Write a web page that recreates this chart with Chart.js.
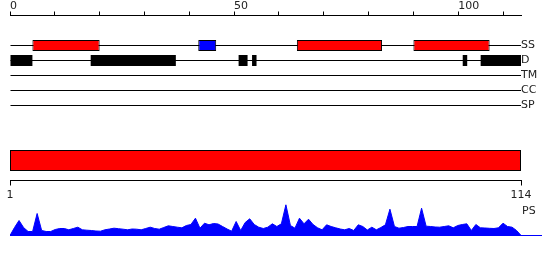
<!DOCTYPE html>
<html>
<head>
<meta charset="utf-8">
<script src="https://cdn.jsdelivr.net/npm/chart.js@4.4.1/dist/chart.umd.min.js"></script>
<style>
  html, body { margin: 0; padding: 0; background: #fff; }
  #wrap { position: relative; width: 550px; height: 260px; overflow: hidden; }
  canvas { position: absolute; left: 0; }
</style>
</head>
<body>
<div id="wrap">
  <canvas id="featureChart" width="550" height="138" style="top:0"></canvas>
  <canvas id="seqChart" width="550" height="80" style="top:140px"></canvas>
  <canvas id="psChart" width="550" height="65" style="top:195px"></canvas>
</div>
<script>
// sequence + feature tracks
const seqLength = 114;
const seqRange = [1, 114];
const seqTicks = [1, 114];
const trackNames = ['SS', 'D', 'TM', 'CC', 'SP'];
const helixSegments = [[5, 20], [64, 83], [90, 107]];
const strandSegments = [[42, 46]];
const disorderSegments = [[0, 5], [18, 37], [51, 53], [54, 55], [101, 102], [105, 114]];

// PS profile, one value per residue
const psValues = [
    0, 8, 15, 8, 4, 4, 22, 5, 4, 4,
    6, 7, 7, 5.7, 7, 8.3, 5.7, 5.3, 5, 4.5,
    4.3, 5.7, 6.5, 7.3, 6.8, 6.3, 5.7, 6.5, 6.3, 5.7,
    7, 8.3, 7, 6.3, 8, 9.7, 9, 8.3, 7.7, 10,
    11, 17.3, 7.3, 12.3, 10.7, 12, 11.5, 9, 6.5, 4.3,
    14, 5, 13, 16.7, 11, 8.3, 7, 8.3, 11.7, 9,
    11.7, 30.7, 10, 7.3, 17.3, 11.7, 16.3, 11, 7.7, 5.7,
    10.7, 9, 7.7, 6.5, 5.7, 7, 5, 10.7, 9, 5.5,
    8.3, 5.7, 8, 10.7, 26.3, 9, 7.3, 8, 9, 9,
    9, 27.3, 9.3, 9, 8.5, 8.3, 9, 9.7, 7.7, 10,
    11, 11.7, 5, 11, 7.7, 7.5, 7.2, 7, 7.7, 12.3,
    9, 8.3, 5, 0
];

Chart.defaults.font.family = '"DejaVu Sans", Verdana, sans-serif';
Chart.defaults.font.size = 11;

const noChrome = { legend: { display: false }, tooltip: { enabled: false } };
const toBars = (segs, row) => segs.map((s) => ({ x: s, y: row }));

new Chart(document.getElementById('featureChart'), {
    type: 'bar',
    data: {
        datasets: [
            { data: toBars(helixSegments, 0), backgroundColor: '#ff0000', borderColor: '#000', borderWidth: 1, borderSkipped: false, barThickness: 11 },
            { data: toBars(strandSegments, 0), backgroundColor: '#0000ff', borderColor: '#000', borderWidth: 1, borderSkipped: false, barThickness: 11 },
            { data: toBars(disorderSegments, 1), backgroundColor: '#000', borderWidth: 0, barThickness: 11 },
            // the track lines
            { data: trackNames.map((n, i) => ({ x: [0, seqLength], y: i })), backgroundColor: '#000', borderWidth: 0, barThickness: 1 }
        ]
    },
    options: {
        indexAxis: 'y',
        responsive: false,
        animation: false,
        layout: { padding: { left: 10, right: 0, top: 0, bottom: 17.5 } },
        datasets: { bar: { grouped: false, inflateAmount: 0 } },
        plugins: noChrome,
        scales: {
            x: {
                type: 'linear',
                position: 'top',
                min: 0,
                max: seqLength,
                afterFit: (s) => { s.height = 15.5; },
                grid: { drawOnChartArea: false, drawTicks: true, tickLength: 4, color: '#000' },
                border: { color: '#000', width: 1 },
                ticks: {
                    stepSize: 10,
                    includeBounds: false,
                    autoSkip: false,
                    maxRotation: 0,
                    align: 'start',
                    padding: 0,
                    color: '#222',
                    font: { size: 11, lineHeight: 1 },
                    callback: (v) => (v % 50 === 0 ? v : '')
                }
            },
            y: {
                type: 'linear',
                position: 'right',
                reverse: true,
                min: -2,
                max: 5,
                offset: false,
                afterFit: (s) => { s.width = 29; },
                grid: { display: false, drawTicks: false },
                border: { display: false },
                ticks: {
                    stepSize: 1,
                    autoSkip: false,
                    padding: 0,
                    color: '#222',
                    callback: (v) => trackNames[v] ?? ''
                }
            }
        }
    }
});

new Chart(document.getElementById('seqChart'), {
    type: 'bar',
    data: {
        datasets: [{
            data: [{ x: seqRange, y: 1 }],
            backgroundColor: '#ff0000',
            borderColor: '#000',
            borderWidth: 1,
            borderSkipped: false,
            barThickness: 21,
            inflateAmount: 0
        }]
    },
    options: {
        indexAxis: 'y',
        responsive: false,
        animation: false,
        layout: { padding: { left: 10, right: 29, top: 0.5, bottom: 0 } },
        plugins: noChrome,
        scales: {
            x: {
                type: 'linear',
                min: seqRange[0],
                max: seqRange[1],
                afterFit: (s) => { s.height = 39.5; },
                afterBuildTicks: (s) => { s.ticks = seqTicks.map((v) => ({ value: v })); },
                grid: { drawOnChartArea: false, tickLength: 5, color: '#000' },
                border: { color: '#000', width: 1 },
                ticks: { autoSkip: false, maxRotation: 0, padding: 3, color: '#222' }
            },
            y: { type: 'linear', min: 0, max: 2, offset: false, display: false }
        }
    }
});

const psLabel = {
    id: 'psLabel',
    afterDraw(chart) {
        const { ctx, scales: { x, y } } = chart;
        ctx.save();
        ctx.font = '11px "DejaVu Sans"';
        ctx.fillStyle = '#222';
        ctx.textAlign = 'left';
        ctx.textBaseline = 'middle';
        ctx.fillText('PS', x.getPixelForValue(seqLength) + 1, y.getPixelForValue(24.5));
        ctx.restore();
    }
};

new Chart(document.getElementById('psChart'), {
    type: 'line',
    data: {
        datasets: [{
            data: psValues.map((v, i) => ({ x: i + 1, y: v })),
            borderColor: '#0000ff',
            backgroundColor: '#0000ff',
            borderWidth: 1,
            fill: 'origin',
            pointRadius: 0,
            tension: 0
        }]
    },
    options: {
        responsive: false,
        animation: false,
        layout: { padding: { left: 10, right: 9, top: 0.5, bottom: 24.5 } },
        plugins: noChrome,
        scales: {
            x: {
                type: 'linear',
                min: 1,
                max: 118.4,
                ticks: { display: false },
                grid: { display: false, drawTicks: false },
                border: { color: '#0000ff', width: 1 }
            },
            y: { min: 0, max: 40, display: false }
        }
    },
    plugins: [psLabel]
});
</script>
</body>
</html>
